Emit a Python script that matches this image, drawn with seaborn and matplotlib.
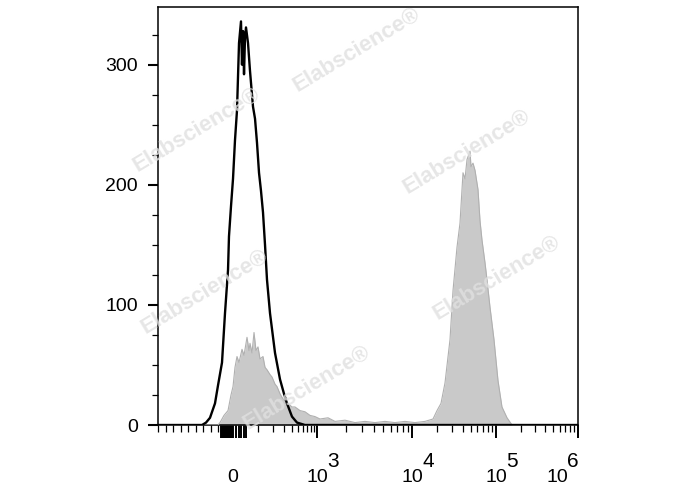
import numpy as np
import seaborn as sns
import matplotlib
matplotlib.use("Agg")
import matplotlib.pyplot as plt

# histogram data: x in display channels (0-1000 across the axis), y = cell count
black_ch = [0, 104.8, 114.3, 123.8, 135.7, 142.9, 152.4, 159.5, 166.7, 169, 173.8, 178.6, 183.3,
            188.1, 192.9, 197.6, 200, 202.4, 204.8, 207.1, 209.5, 214.3, 219, 226.2, 231, 235.7,
            240.5, 245.2, 250, 254.8, 259.5, 266.7, 278.6, 290.5, 300, 307.1, 319, 331, 350, 1000]
black_cnt = [0, 0, 2, 6, 18, 33, 52, 93, 129, 157, 182, 205, 237,
             262, 318, 336, 300, 328, 292, 322, 331, 318, 295, 265, 255, 235,
             210, 195, 177, 150, 121, 93, 60, 38, 26, 18, 7, 2, 0, 0]

gray_ch = [0, 142.9, 147.6, 157.1, 166.7, 173.8, 178.6, 183.3, 188.1, 192.9, 200, 204.8, 211.9,
           216.7, 219, 223.8, 228.6, 233.3, 238.1, 242.9, 250, 254.8, 259.5, 266.7, 271.4, 278.6,
           283.3, 290.5, 295.2, 302.4, 309.5, 319, 326.2, 338.1, 350, 361.9, 373.8, 385.7, 404.8,
           421.4, 445.2, 469, 492.9, 516.7, 540.5, 564.3, 588.1, 611.9, 635.7, 654.8, 664.3, 673.8,
           683.3, 695.2, 702.4, 711.9, 719, 726.2, 731, 735.7, 742.9, 745.2, 750, 754.8, 761.9,
           766.7, 771.4, 778.6, 783.3, 790.5, 800, 809.5, 819, 831, 842.9, 1000]
gray_cnt = [0, 0, 2, 8, 12, 25, 32, 48, 57, 52, 63, 58, 73,
            62, 68, 60, 77, 62, 65, 55, 57, 48, 46, 42, 40, 34,
            32, 26, 23, 20, 18, 15, 15, 12, 11, 8, 7, 5, 6,
            3, 4, 2, 3, 2, 3, 2, 3, 2, 3, 5, 12, 18,
            35, 71, 112, 148, 168, 210, 205, 221, 228, 215, 218, 212, 196,
            170, 154, 135, 121, 98, 71, 37, 15, 6, 0, 0]

decades = [0, 1e3, 1e4, 1e5, 1e6]
decade_exp = ["", "3", "4", "5", "6"]

# biexponential-like axis: linear below zero, asinh above
W = 100.0
K_POS = np.arcsinh(np.array(decades) / W)
C_POS = [178.6, 378.6, 604.8, 804.8, 1000]


def to_channel(v):
    v = np.asarray(v, float)
    pos = np.interp(np.arcsinh(np.clip(v, 0, None) / W), K_POS, C_POS)
    neg = C_POS[0] * (1 + v / 1000.0)
    return np.where(v < 0, neg, pos)


sns.set_style("ticks")
plt.rcParams["font.family"] = ["Liberation Sans", "DejaVu Sans"]
for k in ("text.color", "axes.edgecolor", "xtick.color", "ytick.color", "axes.labelcolor"):
    plt.rcParams[k] = "black"

fig = plt.figure(figsize=(6.88, 4.9), dpi=100)
ax = fig.add_axes([158 / 688, 65 / 490, 420 / 688, 418 / 490])

ax.fill_between(gray_ch, gray_cnt, color="#c9c9c9", lw=0, zorder=2)
sns.lineplot(x=gray_ch, y=gray_cnt, color="#b0b0b0", lw=0.8, ax=ax, zorder=3, sort=False)
sns.lineplot(x=black_ch, y=black_cnt, color="black", lw=1.7, ax=ax, zorder=4, sort=False)

ax.set_xlim(0, 1000)
ax.set_ylim(0, 348)
ax.set_xlabel("")
ax.set_ylabel("")

for s in ax.spines.values():
    s.set_linewidth(1.1)
    s.set_visible(True)
    s.set_color("black")

# x ticks
near_zero = np.arange(-160, 51, 10)
major_x = list(to_channel(near_zero)) + list(to_channel(decades[1:]))
minor_vals = list(np.arange(-1000, -199, 100)) + list(np.arange(100, 1000, 100))
for e in (3, 4, 5):
    minor_vals += [m * 10 ** e for m in range(2, 10)]
ax.set_xticks(major_x)
ax.set_xticks(to_channel(minor_vals), minor=True)
ax.set_xticklabels([])
ax.tick_params(axis="x", which="major", length=9.5, width=1.4, direction="out")
ax.tick_params(axis="x", which="minor", length=5, width=0.9, direction="out")

# y ticks
ax.set_yticks([0, 100, 200, 300])
ax.set_yticks(np.arange(25, 348, 25), minor=True)
ax.tick_params(axis="y", which="major", length=7.5, width=1.5, labelsize=14, pad=7)
ax.tick_params(axis="y", which="minor", length=4, width=0.9)

# x tick labels with large superscripts
for val, ex in zip(decades, decade_exp):
    xc = float(to_channel(val))
    if ex == "":
        ax.annotate("0", (xc, 0), xycoords=("data", "axes fraction"), xytext=(0, -37.5),
                    textcoords="offset points", ha="center", va="center", fontsize=14)
        continue
    shift = -15 if val == 1e6 else 0
    ax.annotate("10", (xc, 0), xycoords=("data", "axes fraction"), xytext=(shift, -37.5),
                textcoords="offset points", ha="center", va="center", fontsize=14,
                annotation_clip=False)
    ax.annotate(ex, (xc, 0), xycoords=("data", "axes fraction"), xytext=(shift + 11.5, -26),
                textcoords="offset points", ha="center", va="center", fontsize=15,
                annotation_clip=False)

# watermarks
marks = [(357, 50), (197, 130), (467, 152), (205, 292), (497, 278), (307, 388)]
for mx, my in marks:
    fig.text(mx / 688, 1 - my / 490, "Elabscience\u00ae", rotation=31, ha="center", va="center",
             fontsize=16, fontweight="bold", color="#e0e0e0", alpha=0.8, zorder=10)

fig.savefig("out.png", dpi=100)
